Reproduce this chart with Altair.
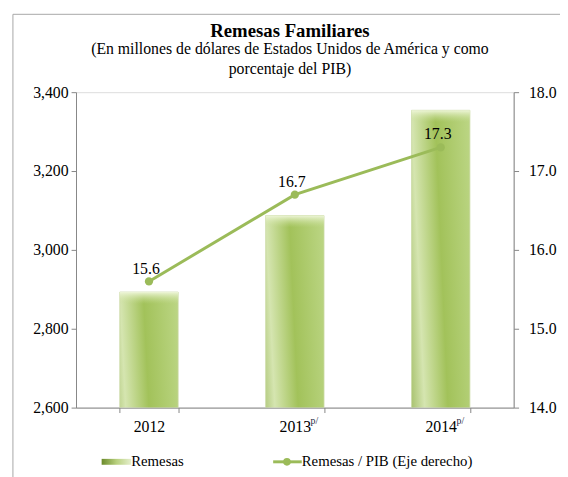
import altair as alt
import pandas as pd

years = ["2012", "2013", "2014"]
remesas = [2893, 3087, 3354]
pct_pib = [15.6, 16.7, 17.3]
pct_labels = ["15.6", "16.7", "17.3"]
superscripts = ["", "p/", "p/"]

left_ticks = [2600, 2800, 3000, 3200, 3400]
right_ticks = [14.0, 15.0, 16.0, 17.0, 18.0]

df = pd.DataFrame({"year": years, "remesas": remesas, "pct": pct_pib,
                   "lbl": pct_labels, "sup": superscripts})
one = pd.DataFrame({"k": [0]})

FONT = "Liberation Serif"
GREEN = "#9bbb59"
AXC = "#868686"
W, H = 444, 320

xenc = alt.X("year:N", sort=years, title=None,
             scale=alt.Scale(paddingInner=0.6, paddingOuter=0.3),
             axis=alt.Axis(labelFont=FONT, labelFontSize=16, labelColor="black",
                           labelAngle=0, labelPadding=6, tickSize=5, tickBand="extent",
                           domainColor=AXC, tickColor=AXC, grid=False))

bar_grad = alt.Gradient(
    gradient="linear", x1=0, y1=1, x2=1, y2=0,
    stops=[alt.GradientStop(offset=0, color="#55761c"),
           alt.GradientStop(offset=0.3, color="#86a83e"),
           alt.GradientStop(offset=0.5, color="#d5e5b0"),
           alt.GradientStop(offset=0.7, color="#a2c25a"),
           alt.GradientStop(offset=1, color="#bcd685")])

top_grad = alt.Gradient(
    gradient="linear", x1=0, y1=0, x2=0, y2=1,
    stops=[alt.GradientStop(offset=0, color="rgba(240,247,220,0.95)"),
           alt.GradientStop(offset=1, color="rgba(200,222,150,0.0)")])

yl_scale = alt.Scale(domain=[2600, 3400], nice=False, zero=False)
yl = alt.Y("remesas:Q", title=None, scale=yl_scale,
           axis=alt.Axis(orient="left", values=left_ticks, format=",.0f", labelFont=FONT,
                         labelFontSize=16, labelColor="black", tickSize=5, labelPadding=3,
                         domainColor=AXC, tickColor=AXC, grid=False))

bars = alt.Chart(df).mark_bar(fill=bar_grad, stroke="#c9d9a3", strokeWidth=0.8,
                              clip=True).encode(x=xenc, y=yl)

bevel = alt.Chart(df).transform_calculate(btm="datum.remesas - 30").mark_bar(
    fill=top_grad, clip=True).encode(
    x=alt.X("year:N", sort=years),
    y=alt.Y("remesas:Q", scale=yl_scale, axis=None), y2="btm:Q")

yr_scale = alt.Scale(domain=[14, 18], nice=False, zero=False)
yr_axis = alt.Axis(orient="right", values=right_ticks, format=".1f", labelFont=FONT,
                   labelFontSize=16, labelColor="black", tickSize=5, labelPadding=10,
                   domainColor=AXC, tickColor=AXC, grid=False)

line = alt.Chart(df).mark_line(color=GREEN, strokeWidth=3).encode(
    x=alt.X("year:N", sort=years),
    y=alt.Y("pct:Q", title=None, scale=yr_scale, axis=yr_axis))
pts = alt.Chart(df).mark_point(filled=True, color=GREEN, size=70, opacity=1).encode(
    x=alt.X("year:N", sort=years),
    y=alt.Y("pct:Q", scale=yr_scale, axis=None))
lbls = alt.Chart(df).mark_text(font=FONT, fontSize=16, color="black", dy=-13, dx=-3).encode(
    x=alt.X("year:N", sort=years),
    y=alt.Y("pct:Q", scale=yr_scale, axis=None),
    text="lbl:N")

sup = alt.Chart(df).mark_text(font=FONT, fontSize=10, color="#1f2a44", align="left",
                              dx=16, baseline="alphabetic").encode(
    x=alt.X("year:N", sort=years),
    y=alt.value(H + 17),
    text="sup:N")

frame = alt.Chart(one).mark_rect(fill="transparent", stroke="#a6a6a6", strokeWidth=1).encode(
    x=alt.value(-64), x2=alt.value(W + 60), y=alt.value(-79), y2=alt.value(H + 80))

leg_grad = alt.Gradient(
    gradient="linear", x1=0, y1=0, x2=1, y2=0,
    stops=[alt.GradientStop(offset=0, color="#6b8a2b"),
           alt.GradientStop(offset=0.5, color="#b8d07e"),
           alt.GradientStop(offset=1, color="#e6efcf")])
leg_rect = alt.Chart(one).mark_rect(fill=leg_grad).encode(
    x=alt.value(26), x2=alt.value(56), y=alt.value(372), y2=alt.value(378))
leg_t1 = alt.Chart(one).mark_text(font=FONT, fontSize=15, color="black", align="left",
                                  baseline="alphabetic").encode(
    x=alt.value(56), y=alt.value(379), text=alt.value("Remesas"))
leg_line = alt.Chart(one).mark_rule(color=GREEN, strokeWidth=3).encode(
    x=alt.value(200), x2=alt.value(229), y=alt.value(375))
leg_pt = alt.Chart(one).mark_point(filled=True, color=GREEN, size=60, opacity=1).encode(
    x=alt.value(214), y=alt.value(375))
leg_t2 = alt.Chart(one).mark_text(font=FONT, fontSize=15, color="black", align="left",
                                  baseline="alphabetic").encode(
    x=alt.value(229), y=alt.value(379), text=alt.value("Remesas / PIB (Eje derecho)"))

chart = alt.layer(
    bars, bevel, line, pts, lbls, sup, frame, leg_rect, leg_t1, leg_line, leg_pt, leg_t2
).resolve_scale(y="independent").properties(
    width=W, height=H,
    title=alt.TitleParams(
        text="Remesas Familiares",
        subtitle=["(En millones  de dólares  de Estados Unidos  de América  y como",
                  "porcentaje  del PIB)"],
        font=FONT, fontSize=19, fontWeight="bold", color="black",
        subtitleFont=FONT, subtitleFontSize=16, subtitleColor="black",
        subtitleLineHeight=20, subtitlePadding=0, anchor="middle", dx=-5, offset=-64,
        frame="group"),
    autosize=alt.AutoSizeParams(type="none"),
    padding={"left": 69, "top": 82, "right": 47, "bottom": 67},
).configure_view(stroke=None).configure(background="white")

chart.save("out.html", embed_options={"renderer": "svg", "actions": False})
